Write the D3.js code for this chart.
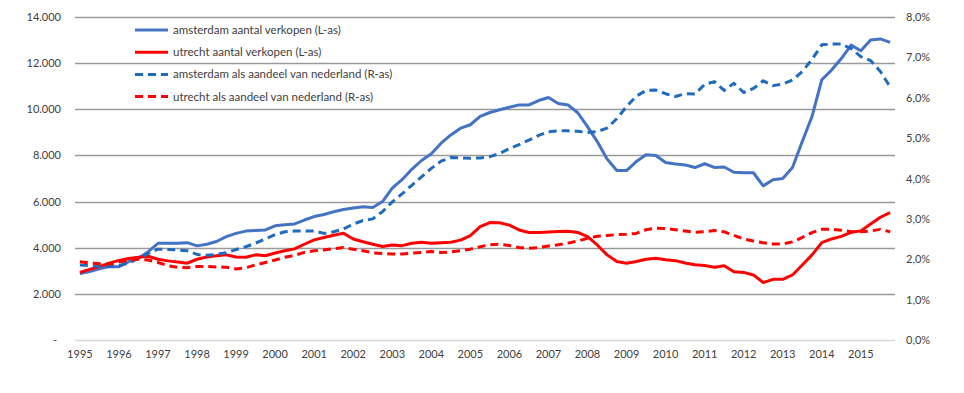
<!DOCTYPE html>
<html>
<head>
<meta charset="utf-8">
<script src="https://cdn.jsdelivr.net/npm/d3@7"></script>
<style>
  body { margin: 0; background: #fff; }
  text { font-family: Lato, "Open Sans", sans-serif; fill: #404040; }
</style>
</head>
<body>
<svg id="chart" width="964" height="393"></svg>
<script>
// quarterly data, 1995 Q1 - 2015 Q4
const firstYear = 1995
const quarters = 84

const amsterdamSales = [
  2880, 2970, 3090, 3180, 3180, 3400, 3540, 3830, 4190, 4190, 4190, 4220,
  4080, 4150, 4270, 4480, 4620, 4720, 4750, 4770, 4950, 5000, 5030, 5200,
  5350, 5440, 5560, 5660, 5720, 5780, 5740, 6000, 6580, 6950, 7400, 7780,
  8070, 8530, 8890, 9180, 9330, 9690, 9860, 9980, 10090, 10190, 10190, 10380,
  10510, 10250, 10190, 9850, 9250, 8600, 7850, 7345, 7345, 7735, 8025, 8000,
  7690, 7630, 7590, 7475, 7640, 7480, 7500, 7270, 7250, 7250, 6680, 6950,
  7000, 7480, 8600, 9690, 11280, 11700, 12200, 12780, 12540, 13000, 13050, 12900
]
const utrechtSales = [
  2930, 3060, 3180, 3330, 3450, 3530, 3590, 3630, 3500, 3430, 3380, 3330,
  3500, 3600, 3650, 3690, 3600, 3590, 3690, 3650, 3770, 3870, 3950, 4150,
  4340, 4440, 4540, 4630, 4380, 4260, 4150, 4050, 4120, 4090, 4190, 4240,
  4190, 4220, 4240, 4330, 4520, 4910, 5090, 5080, 4980, 4770, 4660, 4660,
  4680, 4700, 4710, 4660, 4480, 4120, 3690, 3400, 3330, 3400, 3500, 3540,
  3480, 3440, 3340, 3260, 3230, 3150, 3220, 2960, 2930, 2820, 2490, 2630,
  2630, 2820, 3250, 3690, 4220, 4380, 4490, 4670, 4730, 5030, 5320, 5520
]
const amsterdamShare = [
  1.86, 1.84, 1.82, 1.82, 1.84, 1.91, 2.02, 2.14, 2.25, 2.24, 2.23, 2.21,
  2.12, 2.10, 2.12, 2.16, 2.24, 2.31, 2.40, 2.50, 2.61, 2.68, 2.70, 2.70,
  2.70, 2.64, 2.68, 2.75, 2.87, 2.96, 3.00, 3.18, 3.42, 3.62, 3.83, 4.04,
  4.25, 4.43, 4.52, 4.51, 4.50, 4.51, 4.54, 4.62, 4.74, 4.84, 4.95, 5.07,
  5.16, 5.18, 5.18, 5.17, 5.14, 5.16, 5.25, 5.48, 5.78, 6.04, 6.18, 6.19,
  6.10, 6.03, 6.10, 6.09, 6.33, 6.40, 6.18, 6.36, 6.13, 6.23, 6.42, 6.30,
  6.34, 6.44, 6.65, 6.95, 7.31, 7.33, 7.33, 7.22, 7.02, 6.92, 6.65, 6.27
]
const utrechtShare = [
  1.94, 1.91, 1.89, 1.88, 1.93, 1.98, 2.00, 1.98, 1.92, 1.84, 1.80, 1.79,
  1.82, 1.82, 1.81, 1.80, 1.76, 1.79, 1.86, 1.92, 1.98, 2.05, 2.10, 2.17,
  2.21, 2.23, 2.26, 2.29, 2.25, 2.21, 2.16, 2.14, 2.13, 2.13, 2.15, 2.17,
  2.19, 2.17, 2.18, 2.21, 2.25, 2.31, 2.36, 2.37, 2.34, 2.29, 2.27, 2.29,
  2.33, 2.36, 2.40, 2.45, 2.52, 2.57, 2.59, 2.61, 2.62, 2.64, 2.73, 2.77,
  2.76, 2.73, 2.70, 2.67, 2.68, 2.71, 2.68, 2.59, 2.50, 2.45, 2.41, 2.38,
  2.38, 2.43, 2.54, 2.66, 2.74, 2.74, 2.72, 2.68, 2.68, 2.70, 2.74, 2.68
]

const leftTicks = [0, 2000, 4000, 6000, 8000, 10000, 12000, 14000]
const rightTicks = [0, 1, 2, 3, 4, 5, 6, 7, 8]

const series = [
  { name: 'amsterdam aantal verkopen (L-as)', values: amsterdamSales, axis: 'L', color: '#4472C4', dash: null },
  { name: 'utrecht aantal verkopen (L-as)', values: utrechtSales, axis: 'L', color: '#FF0000', dash: null },
  { name: 'amsterdam als aandeel van nederland (R-as)', values: amsterdamShare, axis: 'R', color: '#1F6BC0', dash: '8,5' },
  { name: 'utrecht als aandeel van nederland (R-as)', values: utrechtShare, axis: 'R', color: '#FF0000', dash: '8,5' }
]

const plot = { left: 75, right: 895, top: 17, bottom: 340 }
const svg = d3.select('#chart')

const x = d3.scaleBand()
  .domain(d3.range(quarters))
  .range([plot.left, plot.right])
const xMid = i => x(i) + x.bandwidth() / 2
const yL = d3.scaleLinear().domain([0, 14000]).range([plot.bottom, plot.top])
const yR = d3.scaleLinear().domain([0, 8]).range([plot.bottom, plot.top])

// gridlines follow the left axis
svg.append('g')
  .selectAll('line')
  .data(leftTicks)
  .join('line')
    .attr('x1', plot.left)
    .attr('x2', plot.right)
    .attr('y1', d => Math.round(yL(d)) + 0.5)
    .attr('y2', d => Math.round(yL(d)) + 0.5)
    .attr('stroke', d => d === 0 ? '#d9d9d9' : '#9a9a9a')
    .attr('stroke-width', 1.3)

const fmtThousands = d3.formatLocale({ decimal: ',', thousands: '.', grouping: [3], currency: ['€', ''] })
const fmtL = d => d === 0 ? '-' : fmtThousands.format(',')(d)
const fmtR = d => d.toFixed(1).replace('.', ',') + '%'

const leftAxis = d3.axisLeft(yL).tickValues(leftTicks).tickFormat(fmtL).tickSize(0).tickPadding(14)
svg.append('g')
  .attr('transform', `translate(${plot.left},0)`)
  .call(leftAxis)
  .call(g => g.select('.domain').remove())
  .selectAll('text')
    .attr('font-size', 11)
    .attr('font-family', 'Lato, "Open Sans", sans-serif')
    .attr('fill', '#404040')
    .attr('dx', d => d === 0 ? -4 : 0)

const rightAxis = d3.axisRight(yR).tickValues(rightTicks).tickFormat(fmtR).tickSize(0).tickPadding(11)
svg.append('g')
  .attr('transform', `translate(${plot.right},0)`)
  .call(rightAxis)
  .call(g => g.select('.domain').remove())
  .selectAll('text')
    .attr('font-size', 11)
    .attr('font-family', 'Lato, "Open Sans", sans-serif')
    .attr('fill', '#404040')

const yearTicks = d3.range(0, quarters, 4)
const bottomAxis = d3.axisBottom(x)
  .tickValues(yearTicks)
  .tickFormat(i => firstYear + i / 4)
  .tickSize(0)
  .tickPadding(10)
svg.append('g')
  .attr('transform', `translate(0,${plot.bottom})`)
  .call(bottomAxis)
  .call(g => g.select('.domain').remove())
  .selectAll('text')
    .attr('font-size', 11)
    .attr('font-family', 'Lato, "Open Sans", sans-serif')
    .attr('fill', '#404040')

// lines
const lineFor = s => d3.line()
  .x((d, i) => xMid(i))
  .y(d => s.axis === 'L' ? yL(d) : yR(d))

svg.append('g')
  .selectAll('path')
  .data(series)
  .join('path')
    .attr('d', s => lineFor(s)(s.values))
    .attr('fill', 'none')
    .attr('stroke', s => s.color)
    .attr('stroke-width', 3)
    .attr('stroke-dasharray', s => s.dash)
    .attr('stroke-linejoin', 'round')

// legend
const legend = svg.append('g')
  .selectAll('g')
  .data(series)
  .join('g')
    .attr('transform', (s, i) => `translate(135,${30 + i * 22.2})`)
legend.append('line')
  .attr('x1', 0)
  .attr('x2', 33)
  .attr('stroke', s => s.color)
  .attr('stroke-width', 3)
  .attr('stroke-dasharray', s => s.dash)
legend.append('text')
  .attr('x', 38)
  .attr('dy', '0.35em')
  .attr('font-size', 11.5)
  .text(s => s.name)
</script>
</body>
</html>
